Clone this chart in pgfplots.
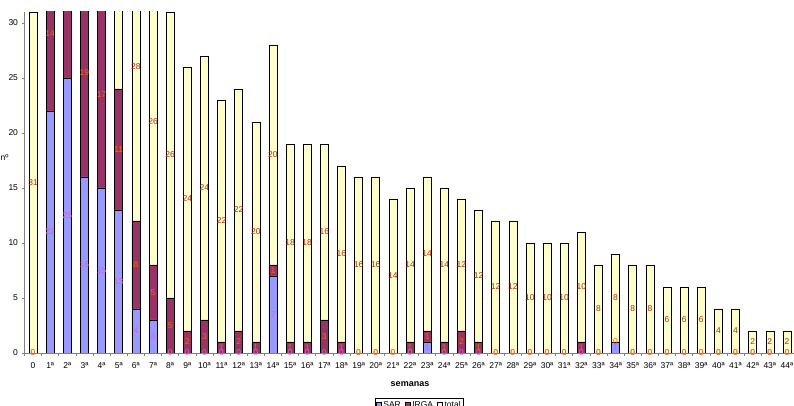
\documentclass[border=0pt]{standalone}
\usepackage{fontspec}
\setmainfont{Liberation Sans}
\usepackage{pgfplots}
\usepackage{pgfplotstable}
\pgfplotsset{compat=1.18}

\definecolor{sar}{RGB}{153,153,255}
\definecolor{irga}{RGB}{153,51,102}
\definecolor{tot}{RGB}{255,255,204}
\definecolor{sarlbl}{RGB}{204,102,204}
\definecolor{irgalbl}{RGB}{255,102,0}
\definecolor{totlbl}{RGB}{175,40,20}
\definecolor{axisgray}{RGB}{128,128,128}

\newcommand\lbl{\fontsize{8.5}{9}\selectfont}
\newcommand\tck{\fontsize{8.5}{9}\selectfont}

% mesma caixa para as duas axes
\pgfplotsset{
  caixa/.style={
    at={(24.5pt,53pt)}, anchor=south west,
    scale only axis, width=771pt, height=341pt,
    xmin=-0.5, xmax=44.5, ymin=0, ymax=31,
    /pgf/number format/assume math mode=true,
  },
}

% semana, SAR, IRGA, total
\pgfplotstableread{
x  sar irga total
0  0   0    31
1  22  14   31
2  25  16   31
3  16  19   31
4  15  17   28
5  13  11   28
6  4   8    28
7  3   5    26
8  0   5    26
9  0   2    24
10 0   3    24
11 0   1    22
12 0   2    22
13 0   1    20
14 7   1    20
15 0   1    18
16 0   1    18
17 0   3    16
18 0   1    16
19 0   0    16
20 0   0    16
21 0   0    14
22 0   1    14
23 1   1    14
24 0   1    14
25 0   2    12
26 0   1    12
27 0   0    12
28 0   0    12
29 0   0    10
30 0   0    10
31 0   0    10
32 0   1    10
33 0   0    8
34 1   0    8
35 0   0    8
36 0   0    8
37 0   0    6
38 0   0    6
39 0   0    6
40 0   0    4
41 0   0    4
42 0   0    2
43 0   0    2
44 0   0    2
}\semanas

\begin{document}
\begin{tikzpicture}
\begin{axis}[
  caixa,
  ybar stacked, bar width=8pt,
  axis x line*=bottom, axis y line*=left,
  axis line style={axisgray, line width=0.8pt},
  tick align=outside,
  xtick=data,
  xticklabels={0,1ª,2ª,3ª,4ª,5ª,6ª,7ª,8ª,9ª,10ª,11ª,12ª,13ª,14ª,15ª,16ª,17ª,18ª,19ª,20ª,21ª,22ª,23ª,24ª,25ª,26ª,27ª,28ª,29ª,30ª,31ª,32ª,33ª,34ª,35ª,36ª,37ª,38ª,39ª,40ª,41ª,42ª,43ª,44ª},
  major x tick style={draw=none},
  minor xtick={-0.5,0.5,...,44.5},
  minor tick length=3pt,
  minor x tick style={axisgray, line width=0.6pt},
  ytick={0,5,...,30},
  major tick length=3pt,
  y tick style={axisgray, line width=0.6pt},
  xticklabel style={font=\tck, yshift=-3pt},
  yticklabel style={font=\fontsize{8.5}{9}\selectfont},
  xlabel={semanas},
  xlabel style={font=\fontsize{9}{10}\selectfont\bfseries, at={(axis description cs:0.5,-0.09)}, anchor=center},
  ylabel={nº},
  ylabel style={font=\fontsize{8.5}{9}\selectfont, rotate=-90, at={(axis description cs:-0.026,0.572)}, anchor=center},
  legend style={at={(axis description cs:0.512,-0.132)}, anchor=north,
    legend columns=3, draw=black, line width=0.5pt, font=\fontsize{8.5}{9}\selectfont,
    inner sep=1pt, /tikz/every even column/.append style={column sep=2pt}},
  legend image code/.code={\draw[#1,draw=black,line width=0.5pt] (0pt,-2.5pt) rectangle (5pt,2.5pt);},
]
\addplot[fill=sar, draw=black, line width=0.6pt] table[x=x, y=sar] {\semanas};
\addplot[fill=irga, draw=black, line width=0.6pt] table[x=x, y=irga] {\semanas};
\addplot[fill=tot, draw=black, line width=0.6pt] table[x=x, y=total] {\semanas};
\legend{SAR,IRGA,total}
\end{axis}
% rotulos de dados, a meio de cada segmento
\begin{axis}[
  caixa, hide axis, clip=false,
  nodes near coords, point meta=explicit,
  every node near coord/.append style={anchor=center, font=\lbl, inner sep=0pt},
]
\addplot[draw=none, every node near coord/.append style={text=sarlbl}]
  table[x=x, y expr={\thisrow{sar}/2}, meta=sar] {\semanas};
\addplot[draw=none, every node near coord/.append style={text=irgalbl}]
  table[x=x, y expr={\thisrow{sar}+\thisrow{irga}/2}, meta=irga] {\semanas};
\addplot[draw=none, every node near coord/.append style={text=totlbl}]
  table[x=x, y expr={\thisrow{sar}+\thisrow{irga}+\thisrow{total}/2}, meta=total] {\semanas};
\end{axis}
\pgfresetboundingbox
\path[use as bounding box] (0,0) rectangle (794pt,406pt);
\end{tikzpicture}
\end{document}
